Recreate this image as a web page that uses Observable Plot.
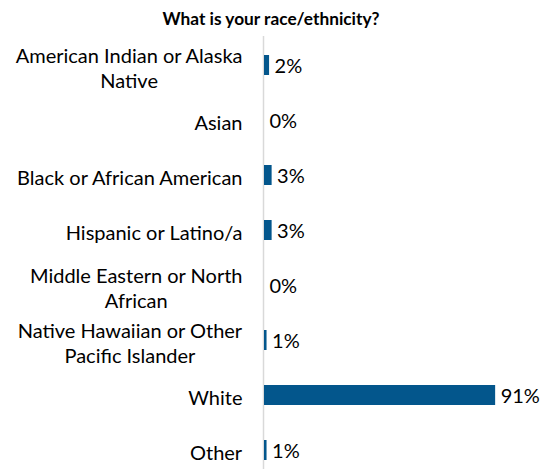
<!DOCTYPE html>
<html><head>
<meta charset="utf-8">
<script src="https://cdn.jsdelivr.net/npm/d3@7"></script>
<script src="https://cdn.jsdelivr.net/npm/@observablehq/plot@0.6"></script>
<style>
body{margin:0;background:#fff;}
#title{font-family:Lato,sans-serif;font-weight:bold;font-size:17.3px;color:#000;text-align:center;height:36px;line-height:38px;width:542px;}
svg{display:block;overflow:visible;}
</style>
</head><body>
<div id="title"></div>
<div id="chart"></div>
<script>
const title = "What is your race/ethnicity?";
const categories = [
  "American Indian or Alaska\nNative",
  "Asian",
  "Black or African American",
  "Hispanic or Latino/a",
  "Middle Eastern or North\nAfrican",
  "Native Hawaiian or Other\nPacific Islander",
  "White",
  "Other"
];
const values = [2, 0, 3, 3, 0, 1, 91, 1];

document.getElementById("title").textContent = title;
const data = categories.map((c, i) => ({category: c, value: values[i]}));

const chart = Plot.plot({
  width: 542,
  height: 433,
  marginLeft: 263,
  marginRight: 0,
  marginTop: 0,
  marginBottom: 0,
  style: {fontFamily: "Lato, sans-serif", fontSize: "20px", background: "#fff", color: "#000"},
  x: {domain: [0, 100], range: [264, 518], axis: null},
  y: {domain: categories, range: [-1.85, 443.85], paddingInner: 0.64, paddingOuter: 0.32, axis: null},
  marks: [
    Plot.ruleX([0], {stroke: "#d9d9d9", strokeWidth: 1.5, dx: -1}),
    Plot.barX(data, {x: "value", y: "category", fill: "#03568C"}),
    Plot.text(data, {x: "value", y: "category", text: d => d.value + "%", textAnchor: "start", dx: 5, dy: 1, fill: "#000", fontSize: 20}),
    Plot.axisY({tickSize: 0, tickPadding: 21, fontSize: 20, lineHeight: 1.25, dy: 1.5, fill: "#000", label: null})
  ]
});
document.getElementById("chart").appendChild(chart);

// Centre the wrapped lines of each category label, keeping the right edge of the widest line
chart.querySelectorAll('g[aria-label="y-axis tick label"] text').forEach(t => {
  const w = t.getBBox().width;
  t.setAttribute("text-anchor", "middle");
  const spans = t.querySelectorAll("tspan");
  if (spans.length) spans.forEach(s => s.setAttribute("x", -w / 2));
  else t.setAttribute("x", -w / 2);
});
</script>
</body></html>
